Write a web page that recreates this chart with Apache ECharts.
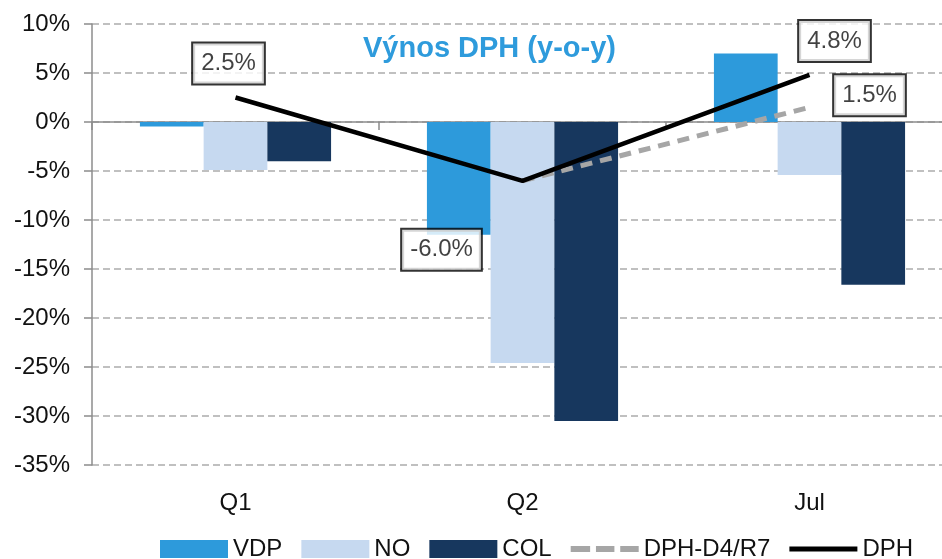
<!DOCTYPE html>
<html>
<head>
<meta charset="utf-8">
<script src="https://cdn.jsdelivr.net/npm/echarts@6/dist/echarts.min.js"></script>
<style>
  html, body { margin: 0; padding: 0; background: #fff; }
  #chart { width: 942px; height: 559px; }
</style>
</head>
<body>
<div id="chart"></div>
<script>
// data
const categories = ['Q1', 'Q2', 'Jul']
const vdp = [-0.45, -11.5, 7.0]
const no = [-4.9, -24.6, -5.4]
const col = [-4.0, -30.5, -16.6]
const dph = [2.5, -6.0, 4.8]
const dphD4 = [null, -6.0, 1.5]
const yTicks = { min: -35, max: 10, step: 5 }

const font = 'Liberation Sans, Arial, sans-serif'

// boxed value labels: [category index, value, offset]
const boxLabels = [
  [0, dph[0], [-7, -34]],
  [1, dph[1], [-81, 69]],
  [2, dph[2], [25, -34]],
  [2, dphD4[2], [60, -12]]
]

// legend icons for the lines (tiny sub-paths at top/bottom keep the stroke thin)
const dashIcon = 'path://M0,0L0.01,0ZM0,18L0.01,18Z' +
  'M0,6h20v6h-20zM26,6h19v6h-19zM51,6h19v6h-19z'
const lineIcon = 'path://M0,0L0.01,0ZM0,18L0.01,18ZM0,6.5h70v5h-70z'

const myChart = echarts.init(document.getElementById('chart'))

const option = {
  animation: false,
  textStyle: { fontFamily: font },
  title: {
    text: 'Výnos DPH (y-o-y)',
    left: 358,
    top: 29,
    textStyle: { color: '#2E9BDC', fontSize: 29, fontWeight: 'bold', fontFamily: font }
  },
  // plot runs a little past the right edge of the picture
  grid: { left: 92, width: 861, top: 24, bottom: 94, outerBoundsMode: 'none' },
  legend: {
    data: [
      { name: 'VDP', icon: 'rect' },
      { name: 'NO', icon: 'rect' },
      { name: 'COL', icon: 'rect' },
      { name: 'DPH-D4/R7', icon: dashIcon, itemStyle: { color: '#a6a6a6' } },
      { name: 'DPH', icon: lineIcon, itemStyle: { color: '#000' } }
    ],
    left: 155,
    top: 532,
    itemWidth: 68,
    itemHeight: 18,
    itemGap: 19,
    textStyle: { fontSize: 24, color: '#111', fontFamily: font }
  },
  xAxis: [
    { // labels at the bottom
      type: 'category',
      data: categories,
      position: 'bottom',
      axisLine: { show: false, onZero: false },
      axisTick: { show: false },
      axisLabel: { fontSize: 24, color: '#111', margin: 26 }
    },
    { // zero line with ticks
      type: 'category',
      data: categories,
      position: 'bottom',
      axisLine: { show: true, onZero: true, lineStyle: { color: '#8c8c8c', width: 1.5 } },
      axisTick: { show: true, length: 8, lineStyle: { color: '#8c8c8c', width: 1.5 } },
      axisLabel: { show: false }
    }
  ],
  yAxis: {
    type: 'value',
    min: yTicks.min,
    max: yTicks.max,
    interval: yTicks.step,
    axisLine: { show: true, lineStyle: { color: '#8c8c8c', width: 1.5 } },
    axisTick: { show: true, length: 8, lineStyle: { color: '#8c8c8c', width: 1.5 } },
    axisLabel: {
      fontSize: 24,
      color: '#111',
      margin: 22,
      formatter: v => v + '%'
    },
    splitLine: {
      show: true,
      lineStyle: { color: '#c0c0c0', width: 2, type: [7, 4] }
    }
  },
  series: [
    {
      name: 'VDP', type: 'bar', data: vdp,
      barGap: 0, barCategoryGap: '33.4%',
      itemStyle: { color: '#2D9ADB' }
    },
    {
      name: 'NO', type: 'bar', data: no,
      barGap: 0, barCategoryGap: '33.4%',
      itemStyle: { color: '#C6D9F0' }
    },
    {
      name: 'COL', type: 'bar', data: col,
      barGap: 0, barCategoryGap: '33.4%',
      itemStyle: { color: '#17375E' }
    },
    {
      name: 'DPH-D4/R7', type: 'line', data: dphD4,
      symbol: 'none',
      itemStyle: { color: '#a6a6a6' },
      lineStyle: { color: '#a6a6a6', width: 5, type: [12, 8] },
      z: 3
    },
    {
      name: 'DPH', type: 'line', data: dph,
      symbol: 'none',
      itemStyle: { color: '#000' },
      lineStyle: { color: '#000', width: 4.5 },
      z: 4
    },
    {
      name: 'labels', type: 'scatter',
      symbolSize: 1,
      itemStyle: { color: 'rgba(0,0,0,0)' },
      z: 6,
      data: boxLabels.map(b => ({
        value: [b[0], b[1]],
        label: {
          show: true,
          position: 'inside',
          offset: b[2],
          formatter: b[1].toFixed(1) + '%',
          fontSize: 24,
          color: '#111',
          backgroundColor: '#fff',
          borderColor: '#000',
          borderWidth: 2,
          padding: [7, 8, 5, 8],
          lineHeight: 28
        }
      }))
    }
  ]
}

myChart.setOption(option)
</script>
</body>
</html>
